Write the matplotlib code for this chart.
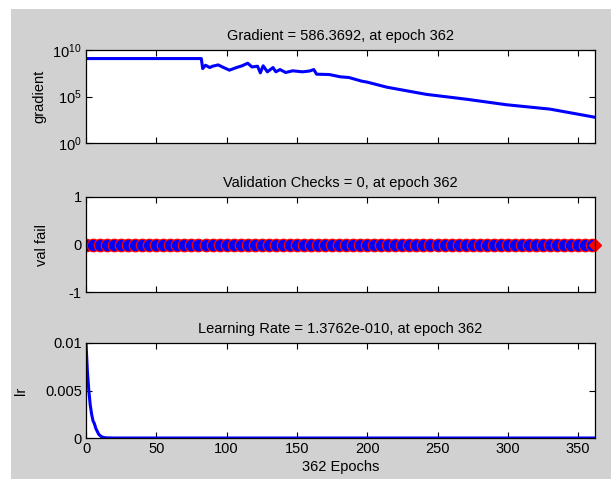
import matplotlib
matplotlib.use("Agg")
import matplotlib.pyplot as plt
from matplotlib.patches import Rectangle
from matplotlib.ticker import NullLocator, FixedLocator

# ---- data ----
grad_epochs = [0, 82, 83, 85, 88, 90, 94, 97, 102, 107, 111, 115, 118, 122, 124, 126,
               129, 133, 135, 138, 142, 147, 154, 159, 162, 164, 173, 181, 187, 196,
               200, 214, 242, 271, 299, 330, 362]
grad_values = [1.2e9, 1.2e9, 1.0e8, 2.3e8, 1.3e8, 1.8e8, 2.5e8, 1.5e8, 6.8e7, 1.3e8,
               2.0e8, 3.8e8, 1.5e8, 1.8e8, 3.5e7, 2.0e8, 4.5e7, 1.3e8, 4.5e7, 7.9e7,
               3.8e7, 5.8e7, 4.5e7, 5.5e7, 7.9e7, 2.5e7, 2.3e7, 1.3e7, 1.1e7, 4.5e6,
               3.5e6, 1.0e6, 1.7e5, 5.0e4, 1.3e4, 4.4e3, 586.3692]

val_epochs = list(range(0, 361, 5)) + [362]
val_fail = [0] * len(val_epochs)

lr_epochs = [0, 1, 2, 3, 4, 5, 6, 7, 8, 9, 10, 11, 12, 14, 20, 362]
lr_values = [0.01, 0.007, 0.005, 0.0035, 0.0025, 0.0018, 0.0015, 0.001, 0.0007,
             0.0004, 0.00025, 0.00015, 0.00008, 0.00002, 0.0, 1.3762e-10]

x_ticks = [0, 50, 100, 150, 200, 250, 300, 350]
titles = ["Gradient = 586.3692, at epoch 362",
          "Validation Checks = 0, at epoch 362",
          "Learning Rate = 1.3762e-010, at epoch 362"]
ylabels = ["gradient", "val fail", "lr"]
xlabel = "362 Epochs"

# ---- figure ----
W, H = 611, 479
fig = plt.figure(figsize=(W / 100, H / 100), dpi=100, facecolor="white")
plt.rcParams["font.family"] = ["Liberation Sans", "DejaVu Sans"]
plt.rcParams["axes.unicode_minus"] = False
plt.rcParams["mathtext.fontset"] = "custom"
plt.rcParams["mathtext.rm"] = "Liberation Sans"
FS = 10.5
fig.patches.append(Rectangle((11 / W, 0), 1 - 11 / W, 1 - 9 / H, transform=fig.transFigure,
                             facecolor="#d1d1d1", edgecolor="none", zorder=-10))

def pos(top, bottom):
    return [86 / W, (H - bottom) / H, (595 - 86) / W, (bottom - top) / H]

ax1 = fig.add_axes(pos(50, 143))
ax2 = fig.add_axes(pos(197, 292))
ax3 = fig.add_axes(pos(343, 438))

BLUE = "#0000ff"
ax1.semilogy(grad_epochs, grad_values, color=BLUE, lw=2.2)
ax1.set_ylim(1, 1e10)
ax1.yaxis.set_major_locator(FixedLocator([1, 1e5, 1e10]))
ax1.yaxis.set_minor_locator(NullLocator())

ax2.plot(val_epochs[:-1], val_fail[:-1], color=BLUE, lw=1.5, marker="o", ms=9,
         mfc=BLUE, mec="red", mew=0.9)
ax2.plot(val_epochs[-1:], val_fail[-1:], color="red", marker="D", ms=6, mfc="red",
         mec="red", ls="none", clip_on=False)
ax2.set_ylim(-1, 1)
ax2.set_yticks([-1, 0, 1])

ax3.plot(lr_epochs, lr_values, color=BLUE, lw=2.2)
ax3.set_ylim(0, 0.01)
ax3.set_yticks([0, 0.005, 0.01])
ax3.set_yticklabels(["0", "0.005", "0.01"])

pads = [4, 14, 12]
for ax, t, yl, lp in zip([ax1, ax2, ax3], titles, ylabels, pads):
    ax.set_xlim(0, 362)
    ax.set_xticks(x_ticks)
    ax.set_facecolor("white")
    ax.set_title(t, fontsize=FS, pad=7)
    ax.tick_params(direction="in", top=True, right=True, length=4, width=0.8,
                   labelsize=FS, pad=3)
    for s in ax.spines.values():
        s.set_linewidth(0.9)
    ax.set_ylabel(yl, fontsize=FS, labelpad=lp)

ax1.tick_params(labelbottom=False)
ax2.tick_params(labelbottom=False)
ax3.set_xlabel(xlabel, fontsize=FS, labelpad=3)

fig.savefig("out.png", dpi=100, facecolor=fig.get_facecolor())
